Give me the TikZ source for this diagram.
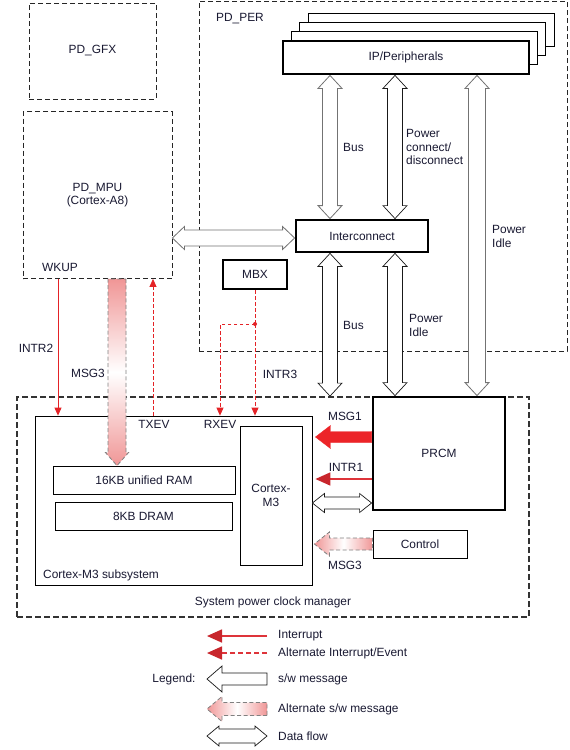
\documentclass[tikz,border=0pt]{standalone}
\usepackage{fontspec}
\setmainfont{Liberation Sans}
\usetikzlibrary{calc,arrows.meta}
\definecolor{txt}{RGB}{25,25,50}
\definecolor{irqred}{RGB}{228,34,38}
\definecolor{intred}{RGB}{222,52,58}
\definecolor{intdark}{RGB}{200,38,44}
\definecolor{msgred}{RGB}{236,36,40}
\definecolor{pinkc}{RGB}{240,150,150}
\pgfdeclarelayer{bg}
\pgfdeclarelayer{fg}
\pgfsetlayers{bg,main,fg}
\newcommand\fatdbl[6][]{%
  \coordinate (fdA) at (#2);
  \coordinate (fdB) at (#3);
  \coordinate (fdP) at ($(fdA)!#4!(fdB)$);
  \coordinate (fdQ) at ($(fdB)!#4!(fdA)$);
  \draw[#1] (fdA) -- ($(fdP)!#6!90:(fdB)$) -- ($(fdP)!#5!90:(fdB)$) -- ($(fdQ)!#5!270:(fdA)$) -- ($(fdQ)!#6!270:(fdA)$) -- (fdB) -- ($(fdQ)!#6!90:(fdA)$) -- ($(fdQ)!#5!90:(fdA)$) -- ($(fdP)!#5!270:(fdB)$) -- ($(fdP)!#6!270:(fdB)$) -- cycle;
}
\newcommand\fatone[6][]{%
  \coordinate (fdA) at (#2);
  \coordinate (fdB) at (#3);
  \coordinate (fdQ) at ($(fdB)!#4!(fdA)$);
  \draw[#1] ($(fdA)!#5!90:(fdB)$) -- ($(fdQ)!#5!270:(fdA)$) -- ($(fdQ)!#6!270:(fdA)$) -- (fdB) -- ($(fdQ)!#6!90:(fdA)$) -- ($(fdQ)!#5!90:(fdA)$) -- ($(fdA)!#5!270:(fdB)$) -- cycle;
}
\tikzset{
  every node/.style={font=\fontsize{11.9}{13.5}\selectfont, text=txt, inner sep=0pt},
  dombox/.style={draw=black!85, dash pattern=on 5pt off 3pt, line width=0.8pt},
  spcmbox/.style={draw=black!80, dash pattern=on 6pt off 3pt, line width=1.8pt},
  thinbox/.style={draw=black, line width=0.8pt, fill=white},
  thickbox/.style={draw=black, line width=2.8pt, fill=white},
  fatgray/.style={draw=black!55, line width=0.8pt, fill=white},
  fatblack/.style={draw=black!90, line width=0.7pt, fill=white},
  msgfill/.style={fill=msgred, draw=msgred, line width=0.3pt},
  altmsgh/.style={draw=black!50, dash pattern=on 4pt off 2.5pt, line width=0.8pt, left color=pinkc, right color=pinkc, middle color=white},
  altmsgv/.style={draw=black!50, dash pattern=on 4pt off 2.5pt, line width=0.8pt, top color=pinkc, bottom color=pinkc, middle color=white},
  irq/.style={draw=irqred, line width=0.8pt, -{Triangle[length=8pt,width=7pt,color=irqred]}},
  altirq/.style={irq, dash pattern=on 3.5pt off 2.5pt},
  altline/.style={draw=irqred, line width=0.8pt, dash pattern=on 3.5pt off 2.5pt},
  intr/.style={draw=intred, line width=1.6pt, -{Triangle[length=15pt,width=13pt,color=intdark]}},
  altintr/.style={intr, dash pattern=on 5pt off 3pt},
}
\begin{document}
\begin{tikzpicture}[x=1pt,y=-1pt]
\useasboundingbox (0,0) rectangle (570,750);

% reference lines
\coordinate (xa) at (330,0);
\coordinate (xb) at (395,0);
\coordinate (xc) at (477,0);
\coordinate (xi2) at (58,0);
\coordinate (xmsg) at (117,0);
\coordinate (xtx) at (153,0);
\coordinate (xrx) at (220,0);
\coordinate (ymi) at (0,238);
\coordinate (ym1) at (0,437);
\coordinate (yi1) at (0,479);
\coordinate (ydf) at (0,503);

\begin{pgfonlayer}{bg}
\fill[white] (0,0) rectangle (570,750);
% power domains
\node[dombox, minimum width=127pt, minimum height=96pt] (gfx) at (92.5,51) {PD\_GFX};
\node[dombox, minimum width=149pt, minimum height=167pt, align=center] (mpu) at (97.5,195) {PD\_MPU\\(Cortex-A8)};
\node (wkup) at (60,267) {WKUP};
\node[dombox, minimum width=368pt, minimum height=350pt] (per) at (383,176) {};
\node (perl) at (240,19) {PD\_PER};

% system power clock manager
\node[spcmbox, minimum width=512pt, minimum height=220pt] (spcm) at (273,507) {};
\node (spcml) at (273,602) {System power clock manager};
\node[thinbox, minimum width=277pt, minimum height=169pt] (sub) at (173.5,500.5) {};
\node[anchor=west] (subl) at (43,575) {Cortex-M3 subsystem};
\node[thinbox, minimum width=182pt, minimum height=28pt] (ram) at (144,480) {16KB unified RAM};
\node[thinbox, minimum width=177pt, minimum height=28pt] (dram) at (143.5,516) {8KB DRAM};
\node[thinbox, minimum width=62pt, minimum height=139pt, align=center] (m3) at (271,495.5) {Cortex-\\M3};
\node[thinbox, minimum width=94pt, minimum height=28pt] (ctrl) at (420,544) {Control};
\end{pgfonlayer}

\begin{pgfonlayer}{fg}
\foreach \k/\n in {3/ip4,2/ip3,1/ip2}
  \node[thinbox, minimum width=246pt, minimum height=33pt] (\n) at ($(406,57.5)+(8.3*\k,-9.3*\k)$) {};
\node[thickbox, minimum width=246pt, minimum height=33pt] (ip1) at (406,57.5) {IP/Peripherals};
\node[thickbox, minimum width=132pt, minimum height=32pt] (ic) at (362,236) {Interconnect};
\node[thickbox, minimum width=64pt, minimum height=29pt] (mbx) at (255,274.5) {MBX};
\node[thickbox, minimum width=132pt, minimum height=113pt] (prcm) at (439,453.5) {PRCM};
\end{pgfonlayer}

% big double arrows
\fatdbl[fatgray]{ip1.south -| xa}{ic.north -| xa}{13pt}{7.5pt}{12pt}
\fatdbl[fatblack]{ip1.south -| xb}{ic.north -| xb}{13pt}{7.5pt}{12pt}
\fatdbl[fatgray]{ip1.south -| xc}{prcm.north -| xc}{13pt}{8.5pt}{12pt}
\fatdbl[fatblack]{ic.south -| xa}{spcm.north -| xa}{13pt}{7.5pt}{12pt}
\fatdbl[fatblack]{ic.south -| xb}{prcm.north -| xb}{13pt}{7.5pt}{12pt}
\fatdbl[fatgray]{mpu.east |- ymi}{ic.west |- ymi}{12pt}{8pt}{11.5pt}
\fatdbl[fatblack]{sub.east |- ydf}{prcm.west |- ydf}{12pt}{6pt}{9.5pt}

\node[anchor=west] (busu) at (343,147) {Bus};
\node[anchor=west, align=left] (pcd) at (406,147) {Power\\connect/\\disconnect};
\node[anchor=west, align=left] (pidl) at (492,236.5) {Power\\Idle};
\node[anchor=west] (busl) at (343,325) {Bus};
\node[anchor=west, align=left] (pidl2) at (409,325.5) {Power\\Idle};

% interrupts and events
\draw[irq] (mpu.south -| xi2) -- (sub.north -| xi2);
\node (intr2) at (36,348) {INTR2};
\draw[altirq] (sub.north -| xtx) -- (mpu.south -| xtx);
\node (txev) at (154,424) {TXEV};
\coordinate (dot) at (255,324);
\draw[altline] (mbx.south) -- (dot);
\draw[altirq] (dot) -- (sub.north -| dot);
\draw[altirq] (dot) -| (sub.north -| xrx);
\fill[irqred] (dot) circle (2pt);
\node (rxev) at (220,424) {RXEV};
\node (intr3) at (280,374) {INTR3};

% messages
\fatone[altmsgv]{mpu.south -| xmsg}{ram.north -| xmsg}{13pt}{9pt}{11.5pt}
\node (msg3a) at (88,373) {MSG3};
\fatone[msgfill]{prcm.west |- ym1}{$(sub.east |- ym1)+(3,0)$}{15pt}{5.5pt}{11.5pt}
\node (msg1) at (345,416) {MSG1};
\draw[intr] (prcm.west |- yi1) -- ($(sub.east |- yi1)+(3,0)$);
\node (intr1) at (346,467) {INTR1};
\fatone[altmsgh]{ctrl.west}{$(sub.east |- ctrl.west)+(2,0)$}{15pt}{6pt}{12pt}
\node (msg3b) at (345,565) {MSG3};

% legend
\node (legend) at (174,679) {Legend:};
\coordinate (lg1a) at (267,636); \coordinate (lg1b) at (207,636);
\coordinate (lg2a) at (267,653); \coordinate (lg2b) at (207,653);
\coordinate (lg3a) at (267,679); \coordinate (lg3b) at (207,679);
\coordinate (lg4a) at (267,709); \coordinate (lg4b) at (207,709);
\coordinate (lg5a) at (267,736); \coordinate (lg5b) at (207,736);
\draw[intr] (lg1a) -- (lg1b);
\draw[altintr] (lg2a) -- (lg2b);
\fatone[fatblack]{lg3a}{lg3b}{15pt}{6pt}{13pt}
\fatone[altmsgh]{lg4a}{lg4b}{15pt}{6.5pt}{12.5pt}
\fatdbl[fatblack]{lg5a}{lg5b}{12pt}{7pt}{10pt}
\node[anchor=west] (lt1) at (278,636) {Interrupt};
\node[anchor=west] (lt2) at (278,653) {Alternate Interrupt/Event};
\node[anchor=west] (lt3) at (278,679) {s/w message};
\node[anchor=west] (lt4) at (278,709) {Alternate s/w message};
\node[anchor=west] (lt5) at (278,736) {Data flow};
\end{tikzpicture}
\end{document}
